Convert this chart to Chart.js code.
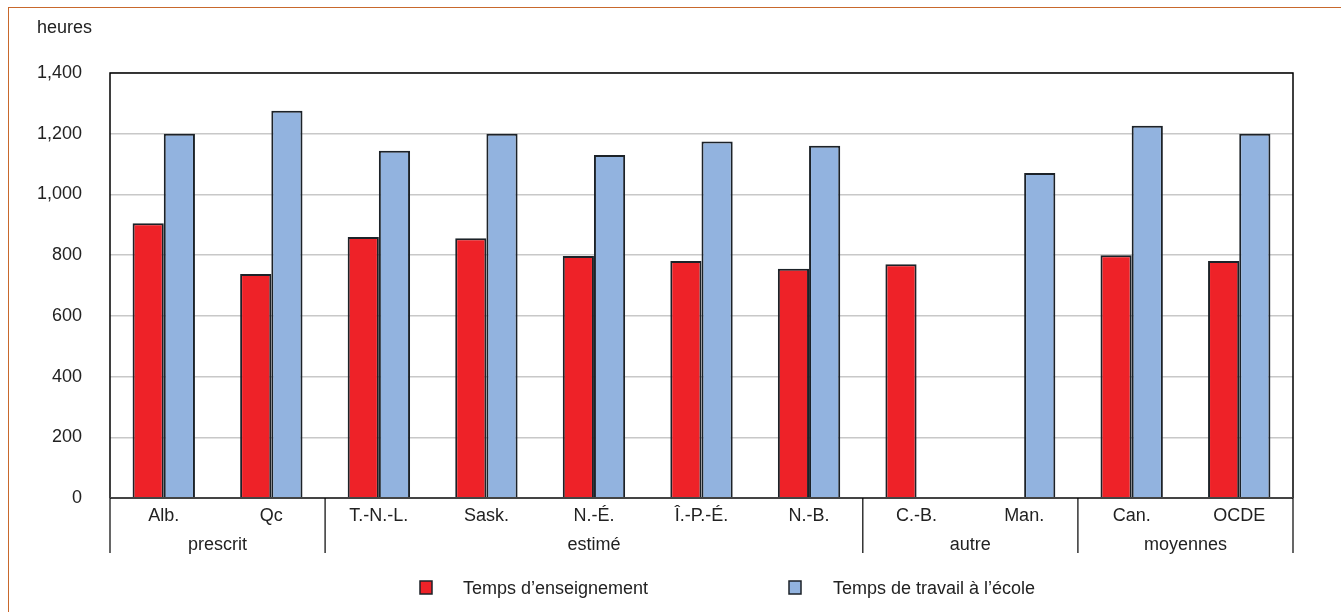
<!DOCTYPE html>
<html lang="fr">
<head>
<meta charset="utf-8">
<title>Temps d'enseignement et temps de travail</title>
<script src="https://cdn.jsdelivr.net/npm/chart.js@4/dist/chart.umd.min.js"></script>
<style>
  html, body { margin: 0; padding: 0; background: #fff; }
  #wrap { position: relative; width: 1341px; height: 612px; }
  #frame { position: absolute; left: 8px; top: 7px; width: 1400px; height: 700px;
           border-left: 1px solid #c8682c; border-top: 1px solid #c8682c; pointer-events: none; }
  #unit { position: absolute; left: 37px; top: 17px; font: 18px "Liberation Sans", Arial, sans-serif; color: #222; }
</style>
</head>
<body>
<div id="wrap">
  <canvas id="chart" width="1341" height="612"></canvas>
  <div id="frame"></div>
  <div id="unit">heures</div>
</div>
<script>
// Catégories et groupes
const categories = ["Alb.", "Qc", "T.-N.-L.", "Sask.", "N.-É.", "Î.-P.-É.", "N.-B.", "C.-B.", "Man.", "Can.", "OCDE"];
const groupNames = ["prescrit", "estimé", "autre", "moyennes"];
const groupSizes = [2, 5, 2, 2];

// Valeurs (heures)
const tempsEnseignement = [905, 738, 860, 856, 797, 781, 755, 770, null, 800, 781];
const tempsTravail = [1200, 1276, 1144, 1200, 1130, 1174, 1160, null, 1071, 1226, 1200];

const yTicks = [0, 200, 400, 600, 800, 1000, 1200, 1400];

const FONT = '"Liberation Sans", Arial, sans-serif';
const RED = "#ee2228";
const BLUE = "#92b3df";
const EDGE = "#1c2228";

// Cadre, séparateurs de groupes, légende
const decorations = {
    id: "decorations",
    afterDraw(chart) {
        const ctx = chart.ctx;
        const area = chart.chartArea;
        const x = chart.scales.x;
        const y0 = chart.scales.y.getPixelForValue(0);

        ctx.save();
        // cadre du graphique
        ctx.strokeStyle = "#000";
        ctx.lineWidth = 1.5;
        ctx.beginPath();
        ctx.moveTo(area.left, area.bottom);
        ctx.lineTo(area.left, area.top);
        ctx.lineTo(area.right, area.top);
        ctx.lineTo(area.right, area.bottom);
        ctx.stroke();

        // axe à zéro
        ctx.strokeStyle = "#444";
        ctx.lineWidth = 2;
        ctx.beginPath();
        ctx.moveTo(area.left, y0);
        ctx.lineTo(area.right, y0);
        ctx.stroke();

        // séparateurs et étiquettes de groupes
        ctx.strokeStyle = "#000";
        ctx.lineWidth = 1.2;
        ctx.fillStyle = "#222";
        ctx.font = "18px " + FONT;
        ctx.textAlign = "center";
        ctx.textBaseline = "middle";
        const half = (x.getPixelForValue(1) - x.getPixelForValue(0)) / 2;
        let start = 0;
        const edges = [area.left];
        groupSizes.forEach((n, g) => {
            const end = start + n - 1;
            const right = x.getPixelForValue(end) + half;
            edges.push(right);
            const mid = (x.getPixelForValue(start) + x.getPixelForValue(end)) / 2;
            ctx.fillText(groupNames[g], mid, 545);
            start += n;
        });
        edges.forEach(px => {
            ctx.beginPath();
            ctx.moveTo(px, y0);
            ctx.lineTo(px, 553);
            ctx.stroke();
        });

        // légende
        const items = chart.data.datasets.map((ds, i) => ({
            label: ds.label, color: ds.backgroundColor,
            box: [420, 789][i], text: [463, 833][i]
        }));
        ctx.textAlign = "left";
        items.forEach(it => {
            ctx.fillStyle = it.color;
            ctx.fillRect(it.box, 581, 12, 13);
            ctx.strokeStyle = EDGE;
            ctx.lineWidth = 1.5;
            ctx.strokeRect(it.box, 581, 12, 13);
            ctx.fillStyle = "#222";
            ctx.fillText(it.label, it.text, 589);
        });
        ctx.restore();
    }
};

new Chart(document.getElementById("chart"), {
    type: "bar",
    data: {
        labels: categories,
        datasets: [
            { label: "Temps d\u2019enseignement", data: tempsEnseignement,
              backgroundColor: RED, borderColor: EDGE, borderWidth: 2 },
            { label: "Temps de travail \u00e0 l\u2019\u00e9cole", data: tempsTravail,
              backgroundColor: BLUE, borderColor: EDGE, borderWidth: 2 }
        ]
    },
    options: {
        responsive: false,
        animation: false,
        devicePixelRatio: 1,
        layout: { padding: { top: 73, right: 48, left: 0, bottom: 0 } },
        datasets: { bar: { barPercentage: 1, categoryPercentage: 0.58 } },
        scales: {
            x: {
                grid: { display: false, drawTicks: false },
                border: { display: false },
                ticks: { color: "#222", font: { family: FONT, size: 18 }, padding: 7, maxRotation: 0, autoSkip: false },
                afterFit(scale) { scale.height = 114; }
            },
            y: {
                min: 0, max: 1400,
                afterBuildTicks(scale) { scale.ticks = yTicks.map(v => ({ value: v })); },
                grid: { color: "#c8c8c8", lineWidth: 1.5, drawTicks: false },
                border: { display: false },
                ticks: {
                    color: "#222", font: { family: FONT, size: 18 }, padding: 28,
                    callback: v => v.toLocaleString("en-US")
                },
                afterFit(scale) { scale.width = 110; }
            }
        },
        plugins: {
            legend: { display: false },
            tooltip: { enabled: false }
        }
    },
    plugins: [decorations]
});
</script>
</body>
</html>
